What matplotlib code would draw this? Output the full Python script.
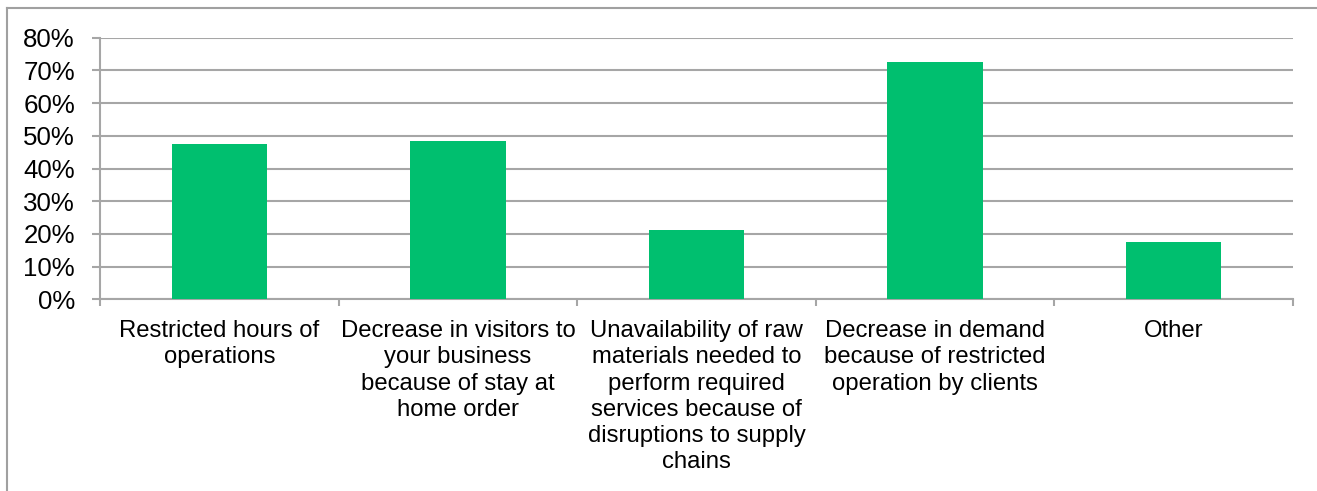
import matplotlib.pyplot as plt
from matplotlib.lines import Line2D
from matplotlib.ticker import PercentFormatter

# Impact categories and share of respondents
categories = [
    "Restricted hours of\noperations",
    "Decrease in visitors to\nyour business\nbecause of stay at\nhome order",
    "Unavailability of raw\nmaterials needed to\nperform required\nservices because of\ndisruptions to supply\nchains",
    "Decrease in demand\nbecause of restricted\noperation by clients",
    "Other",
]
shares = [0.474, 0.485, 0.212, 0.726, 0.175]
y_ticks = [0.0, 0.1, 0.2, 0.3, 0.4, 0.5, 0.6, 0.7, 0.8]

plt.rcParams['font.family'] = ['Liberation Sans', 'DejaVu Sans']

fig = plt.figure(figsize=(13.17, 4.91), dpi=100)
ax = fig.add_axes([100 / 1317, 1 - 299.3 / 491, 1193 / 1317, 261.6 / 491])

grid_color = '#A6A6A6'
x = list(range(len(categories)))
ax.bar(x, shares, width=0.40, color='#00BF6F', zorder=3)

ax.set_xlim(-0.5, len(categories) - 0.5)
ax.set_ylim(0, 0.8)
ax.set_yticks(y_ticks)
ax.yaxis.set_major_formatter(PercentFormatter(1.0, decimals=0))
ax.grid(axis='y', color=grid_color, linewidth=1.5, zorder=0)

# category labels centred under bars, tick marks on the boundaries
ax.set_xticks(x)
ax.set_xticklabels(categories, fontsize=17.2, linespacing=1.25)
ax.tick_params(axis='x', length=0, pad=15)
ax.set_xticks([i - 0.5 for i in range(len(categories) + 1)], minor=True)
ax.tick_params(axis='x', which='minor', length=5, width=1.5, color=grid_color)
ax.tick_params(axis='y', length=6, width=1.5, color=grid_color, labelsize=18.6, pad=12)

for side in ['top', 'right']:
    ax.spines[side].set_visible(False)
for side in ['left', 'bottom']:
    ax.spines[side].set_color(grid_color)
    ax.spines[side].set_linewidth(1.5)

# outer chart border (only top and left visible in the crop)
fig.add_artist(Line2D([6.5 / 1317, 6.5 / 1317], [0, 1 - 7.5 / 491], color='#A0A0A0', linewidth=1.5))
fig.add_artist(Line2D([6.5 / 1317, 1], [1 - 7.5 / 491, 1 - 7.5 / 491], color='#A0A0A0', linewidth=1.5))

fig.savefig("out.png", dpi=100)
